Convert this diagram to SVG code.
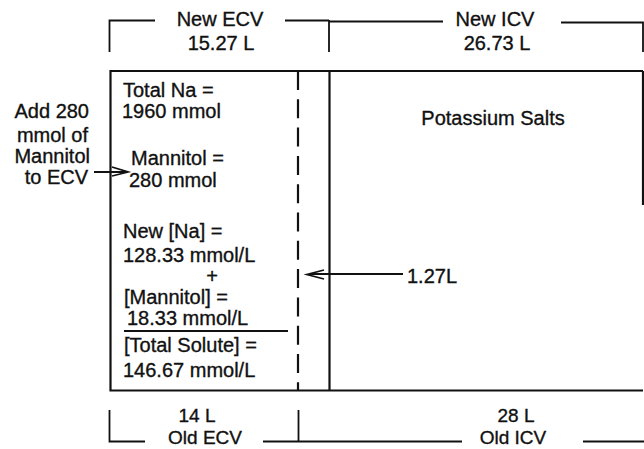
<svg xmlns="http://www.w3.org/2000/svg" width="644" height="449" viewBox="0 0 644 449">
<style>
text{font-family:"Liberation Sans",Arial,Helvetica,sans-serif;font-size:20px;fill:#111;stroke:#111;stroke-width:0.35;}
.mid{text-anchor:middle;}
.end{text-anchor:end;}
.sm{font-size:19px;}
.br{stroke:#111;stroke-width:1.8;fill:none;}
.box{stroke:#111;stroke-width:2.2;fill:none;}
.dash{stroke:#111;stroke-width:2.2;fill:none;stroke-dasharray:19 9.3;}
.arr{stroke:#111;stroke-width:1.8;fill:none;}
</style>
<rect width="644" height="449" fill="#fff"/>
<g id="top-brackets">
  <path class="br" d="M109.5 52 V20.5 H155"/>
  <path class="br" d="M285 20.5 H329 M329 20 V52"/>
  <path class="br" d="M329 21.5 H443"/>
  <path class="br" d="M561 22.5 H643 V52"/>
  <text class="mid" x="220" y="26">New ECV</text>
  <text class="mid" x="221" y="50">15.27 L</text>
  <text class="mid" x="495" y="26">New ICV</text>
  <text class="mid" x="497" y="50">26.73 L</text>
</g>
<g id="ecv">
  <path class="box" d="M643 71 H110.5 V390.5 H643"/>
  <path class="box" d="M643 71 V205"/>
  <line class="dash" x1="298" y1="71" x2="298" y2="390"/>
  <text x="123" y="97">Total Na =</text>
  <text x="122" y="118">1960 mmol</text>
  <text x="131" y="165">Mannitol =</text>
  <text x="129" y="187">280 mmol</text>
  <text x="123" y="238">New [Na] =</text>
  <text x="123" y="262">128.33 mmol/L</text>
  <text class="mid" x="212" y="283">+</text>
  <text x="124" y="304">[Mannitol] =</text>
  <text x="127" y="325">18.33 mmol/L</text>
  <line x1="124" y1="331" x2="288" y2="331" stroke="#111" stroke-width="1.8"/>
  <text x="124" y="352">[Total Solute] =</text>
  <text x="123" y="377">146.67 mmol/L</text>
</g>
<g id="icv">
  <line class="box" x1="329.5" y1="71" x2="329.5" y2="390"/>
  <text class="mid" x="493" y="125">Potassium Salts</text>
</g>
<g id="mannitol-source">
  <text class="end" x="89" y="118">Add 280</text>
  <text class="end" x="88" y="142">mmol of</text>
  <text class="end" x="90" y="163">Mannitol</text>
  <text class="end" x="88" y="184">to ECV</text>
</g>
<g id="water-shift">
  <text x="407" y="283">1.27L</text>
</g>
<g id="connectors">
  <path class="arr" d="M94 172 H126 M112 167 L128 172 L112 176"/>
  <path class="arr" d="M403 274 H309 M324 270 L307 274.5 L324 279"/>
</g>
<g id="bottom-brackets">
  <path class="br" d="M109.5 410 V441.5 H145"/>
  <path class="br" d="M263 441.5 H462 M298.5 410 V441.5"/>
  <path class="br" d="M583 441.5 H644"/>
  <text class="mid sm" x="197" y="422">14 L</text>
  <text class="mid sm" x="205" y="444">Old ECV</text>
  <text class="mid sm" x="516" y="422">28 L</text>
  <text class="mid sm" x="513" y="444">Old ICV</text>
</g>
</svg>
